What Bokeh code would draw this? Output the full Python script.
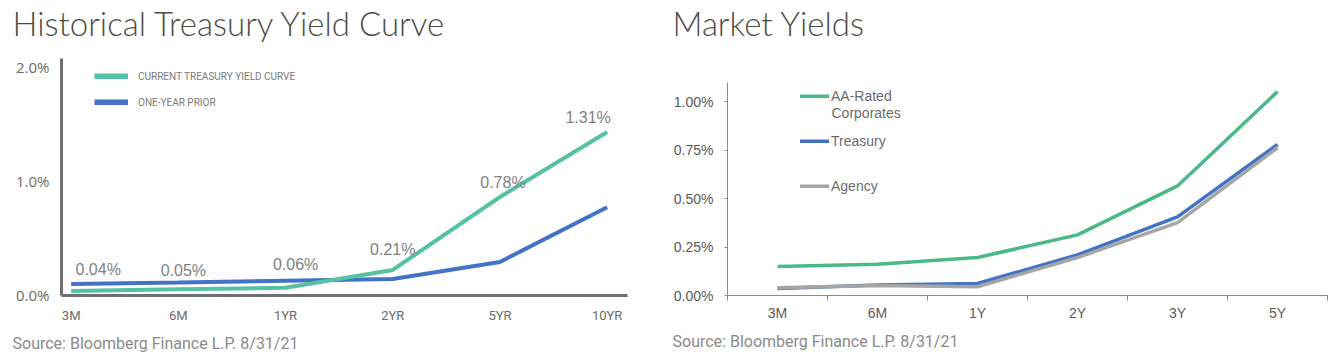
from bokeh.plotting import figure
from bokeh.models import (ColumnDataSource, FixedTicker, Legend, LegendItem, Title,
                          Range1d, Label, PrintfTickFormatter)
from bokeh.layouts import row
from bokeh.embed import file_html
from bokeh.resources import INLINE
from bokeh.core.properties import value

# ---------------- data: Historical Treasury Yield Curve ----------------
hist_terms = ["3M", "6M", "1YR", "2YR", "5YR", "10YR"]
current_curve = [0.035, 0.05, 0.064, 0.22, 0.86, 1.43]
current_labels = ["0.04%", "0.05%", "0.06%", "0.21%", "0.78%", "1.31%"]
prior_curve = [0.096, 0.11, 0.125, 0.14, 0.29, 0.77]
hist_yticks = [0.0, 1.0, 2.0]

# ---------------- data: Market Yields ----------------
market_terms = ["3M", "6M", "1Y", "2Y", "3Y", "5Y"]
aa_corporates = [0.150, 0.162, 0.196, 0.313, 0.566, 1.053]
treasury = [0.036, 0.054, 0.062, 0.210, 0.406, 0.780]
agency = [0.040, 0.052, 0.045, 0.196, 0.376, 0.763]
market_yticks = [0.0, 0.25, 0.5, 0.75, 1.0]

TITLE_FONT = "Lato Light"
SRC_FONT = "Roboto"
NARROW = "Roboto"
GREEN1 = "#55C2A3"
BLUE = "#4472C4"
GREEN2 = "#4BB987"
GRAY = "#A5A5A5"
NAN = float("nan")
SOURCE = "Source: Bloomberg Finance L.P. 8/31/21"


def add_titles(p, title, offset):
    p.title = None
    # spacer between the frame and the title
    p.add_layout(Title(text=" ", standoff=3, text_font_size="10px"), "above")
    p.add_layout(Title(text=title, align="left", offset=offset, standoff=0,
                       text_font=TITLE_FONT, text_font_size="33px", text_font_style="normal",
                       text_color="#4D4D45"), "above")
    p.add_layout(Title(text=SOURCE, align="left", offset=offset, standoff=13,
                       text_font=SRC_FONT, text_font_size="16px", text_font_style="normal",
                       text_color="#8A8A8A"), "below")


# ======================= LEFT CHART =======================
p1 = figure(width=668, height=360, output_backend="svg", toolbar_location=None,
            x_range=Range1d(-0.0905, 5.19), y_range=Range1d(-0.0044, 2.075),
            min_border_left=61, min_border_right=41, min_border_top=58, min_border_bottom=65)
p1.grid.visible = False
p1.outline_line_color = None

xi = list(range(len(hist_terms)))
src1 = ColumnDataSource(dict(x=xi, cur=current_curve, prior=prior_curve, lab=current_labels,
                             dx=[27, 5, 10, 0, 3, -19], dy=[-22, -19, -23, -20, -14, -15]))
p1.line("x", "prior", source=src1, line_color=BLUE, line_width=4)
p1.line("x", "cur", source=src1, line_color=GREEN1, line_width=4)
p1.text("x", "cur", text="lab", source=src1, x_offset="dx", y_offset="dy",
        text_align="center", text_baseline="middle", text_font=value("Liberation Sans"),
        text_font_size="16px", text_color="#808080")

leg_cur = p1.line([NAN], [NAN], line_color=GREEN1, line_width=6)
leg_pri = p1.line([NAN], [NAN], line_color=BLUE, line_width=6)
lg1 = Legend(items=[LegendItem(label="CURRENT TREASURY YIELD CURVE", renderers=[leg_cur]),
                    LegendItem(label="ONE-YEAR PRIOR", renderers=[leg_pri])],
             location=(33, 183), glyph_width=34, glyph_height=6, label_standoff=10,
             spacing=6, label_height=20, padding=0, margin=0,
             border_line_color=None, background_fill_alpha=0,
             label_text_font=NARROW, label_text_font_size="10px",
             label_text_color="#7a7a7a")
p1.add_layout(lg1)

for ax in (p1.xaxis[0], p1.yaxis[0]):
    ax.axis_line_color = "#6E6E73"
    ax.axis_line_width = 3
    ax.major_tick_line_color = None
    ax.minor_tick_line_color = None
    ax.major_label_text_color = "#6b6b6b"

p1.xaxis.ticker = FixedTicker(ticks=xi)
p1.xaxis.major_label_overrides = {i: t for i, t in zip(xi, hist_terms)}
p1.xaxis.major_label_text_font = NARROW
p1.xaxis.major_label_text_font_size = "13px"
p1.xaxis.major_label_standoff = 6

p1.yaxis.ticker = FixedTicker(ticks=hist_yticks)
p1.yaxis.formatter = PrintfTickFormatter(format="%.1f%%")
p1.yaxis.major_label_text_font = "Open Sans"
p1.yaxis.major_label_text_font_size = "15px"
p1.yaxis.major_label_standoff = 6

add_titles(p1, "Historical Treasury Yield Curve", -49)

# ======================= RIGHT CHART =======================
p2 = figure(width=673, height=360, output_backend="svg", toolbar_location=None,
            x_range=Range1d(0, 6), y_range=Range1d(0, 1.224),
            min_border_left=59, min_border_right=14, min_border_top=58, min_border_bottom=65)
p2.grid.visible = False
p2.outline_line_color = None

xm = [i + 0.5 for i in range(len(market_terms))]
src2 = ColumnDataSource(dict(x=xm, aa=aa_corporates, tr=treasury, ag=agency))
p2.line("x", "aa", source=src2, line_color=GREEN2, line_width=3.5, line_join="round")
p2.line("x", "tr", source=src2, line_color=BLUE, line_width=3.5, line_join="round")
p2.line("x", "ag", source=src2, line_color=GRAY, line_width=3.5, line_join="round")

l_aa = p2.line([NAN], [NAN], line_color=GREEN2, line_width=4, line_cap="round")
l_tr = p2.line([NAN], [NAN], line_color=BLUE, line_width=4, line_cap="round")
l_ag = p2.line([NAN], [NAN], line_color=GRAY, line_width=4, line_cap="round")
common = dict(glyph_width=29, glyph_height=4, label_standoff=2, label_height=16,
              padding=0, margin=0, border_line_color=None, background_fill_alpha=0,
              label_text_font="Liberation Sans", label_text_font_size="14px",
              label_text_color="#6b6b6b")
lg2a = Legend(items=[LegendItem(label="AA-Rated", renderers=[l_aa])],
              location=(73, 191), **common)
lg2b = Legend(items=[LegendItem(label="Treasury", renderers=[l_tr]),
                     LegendItem(label="Agency", renderers=[l_ag])],
              location=(73, 101), spacing=29, **common)
p2.add_layout(lg2a)
p2.add_layout(lg2b)
p2.add_layout(Label(x=104, y=183, x_units="screen", y_units="screen", text="Corporates",
                    text_baseline="middle", text_font="Liberation Sans",
                    text_font_size="14px", text_color="#6b6b6b"))

for ax in (p2.xaxis[0], p2.yaxis[0]):
    ax.axis_line_color = "#8C8C8C"
    ax.axis_line_width = 1
    ax.major_label_text_color = "#595959"
    ax.major_label_text_font = "Liberation Sans"
    ax.major_label_text_font_size = "14px"

p2.xaxis.ticker = FixedTicker(ticks=xm, minor_ticks=list(range(7)))
p2.xaxis.major_label_overrides = {x: t for x, t in zip(xm, market_terms)}
p2.xaxis.major_tick_line_color = None
p2.xaxis.minor_tick_line_color = "#8C8C8C"
p2.xaxis.minor_tick_out = 5
p2.xaxis.minor_tick_in = 0
p2.xaxis.major_label_standoff = 3

p2.yaxis.ticker = FixedTicker(ticks=market_yticks)
p2.yaxis.bounds = (0, 1.1)
p2.yaxis.formatter = PrintfTickFormatter(format="%.2f%%")
p2.yaxis.major_tick_line_color = "#8C8C8C"
p2.yaxis.major_tick_out = 3
p2.yaxis.major_tick_in = 0
p2.yaxis.minor_tick_line_color = None
p2.yaxis.major_label_standoff = 11

add_titles(p2, "Market Yields", -55)

layout = row(p1, p2)
open("out.html", "w").write(file_html(layout, INLINE))
